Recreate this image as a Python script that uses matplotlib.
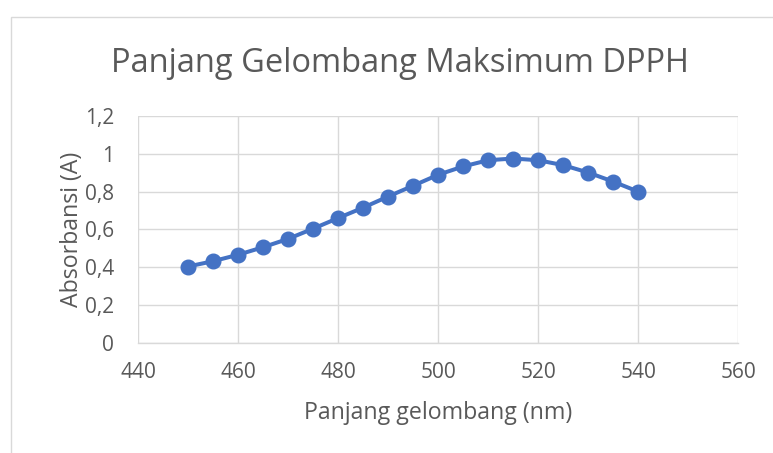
import matplotlib
matplotlib.use("Agg")
import matplotlib.pyplot as plt
from matplotlib.patches import Rectangle
from matplotlib.ticker import FuncFormatter

# --- Data ---
wavelength = [450, 455, 460, 465, 470, 475, 480, 485, 490, 495,
              500, 505, 510, 515, 520, 525, 530, 535, 540]
absorbance = [0.404, 0.432, 0.466, 0.506, 0.550, 0.604, 0.660, 0.715, 0.774, 0.831,
              0.889, 0.933, 0.966, 0.975, 0.966, 0.940, 0.901, 0.853, 0.800]

x_ticks = [440, 460, 480, 500, 520, 540, 560]
y_ticks = [0, 0.2, 0.4, 0.6, 0.8, 1.0, 1.2]

TITLE = "Panjang Gelombang Maksimum DPPH"
X_LABEL = "Panjang gelombang (nm)"
Y_LABEL = "Absorbansi (A)"

# --- Style ---
LINE_COLOR = "#4472C4"
TEXT_COLOR = "#595959"
GRID_COLOR = "#D9D9D9"
plt.rcParams['font.family'] = ['Open Sans', 'DejaVu Sans']


def comma_fmt(v, pos):
    s = f"{v:.1f}".rstrip("0").rstrip(".")
    return s.replace(".", ",")


fig = plt.figure(figsize=(7.73, 4.53), dpi=100)
ax = fig.add_axes([0.1785, 0.243, 0.7765, 0.501])

# outer chart border (Excel chart area)
fig.patches.append(Rectangle((11 / 773, -0.1), 1.2, 1 - 17 / 453 + 0.1,
                             transform=fig.transFigure, fill=False,
                             edgecolor="#D9D9D9", linewidth=1.0))

ax.plot(wavelength, absorbance, color=LINE_COLOR, linewidth=2.9,
        marker="o", markersize=10.5, markerfacecolor=LINE_COLOR,
        markeredgecolor=LINE_COLOR, zorder=3)

ax.set_xlim(440, 560)
ax.set_ylim(0, 1.2)
ax.set_xticks(x_ticks)
ax.set_yticks(y_ticks)
ax.yaxis.set_major_formatter(FuncFormatter(comma_fmt))

ax.grid(True, color=GRID_COLOR, linewidth=1.0)
ax.set_axisbelow(True)
for side in ["top", "right", "left"]:
    ax.spines[side].set_visible(False)
ax.spines["bottom"].set_color(GRID_COLOR)
ax.spines["bottom"].set_linewidth(1.0)

ax.tick_params(axis="x", length=0, labelsize=15, colors=TEXT_COLOR, pad=14)
ax.tick_params(axis="y", length=0, labelsize=15, colors=TEXT_COLOR, pad=17)

ax.set_xlabel(X_LABEL, fontsize=16.7, color=TEXT_COLOR, labelpad=13)
ax.set_ylabel(Y_LABEL, fontsize=16.7, color=TEXT_COLOR, labelpad=1)

fig.text(400 / 773, 1 - 63 / 453, TITLE, ha="center", va="center",
         fontsize=23.5, color=TEXT_COLOR)

fig.savefig("out.png", dpi=100, facecolor="white")
